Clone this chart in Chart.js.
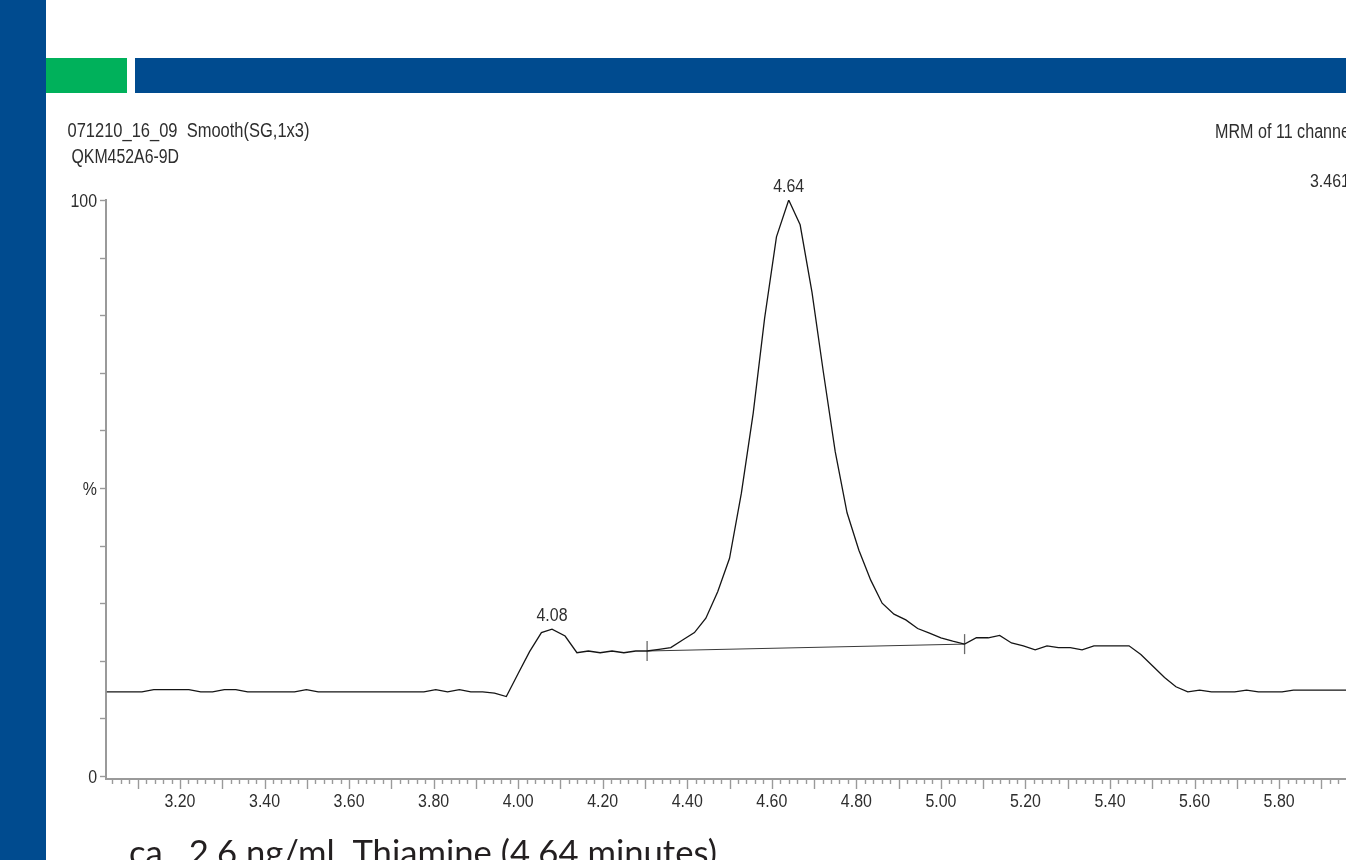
<!DOCTYPE html>
<html>
<head>
<meta charset="utf-8">
<title>Thiamine MRM chromatogram</title>
<script src="https://cdn.jsdelivr.net/npm/chart.js@4.4.1/dist/chart.umd.min.js"></script>
<style>
  html, body { margin: 0; padding: 0; background: #fff; overflow: hidden; width: 1346px; height: 860px; }
  #wrap { position: absolute; left: 0; top: 0; width: 1420px; height: 860px; }
</style>
</head>
<body>
<div id="wrap"><canvas id="chrom" width="1420" height="860"></canvas></div>
<script>
// Retention time (minutes) of each scan
const times = [
  3.027, 3.054, 3.082, 3.110, 3.138, 3.166, 3.193, 3.221, 3.249, 3.277,
  3.305, 3.332, 3.360, 3.388, 3.416, 3.444, 3.471, 3.499, 3.527, 3.555,
  3.583, 3.610, 3.638, 3.666, 3.694, 3.722, 3.749, 3.777, 3.805, 3.833,
  3.861, 3.888, 3.916, 3.944, 3.972, 4.000, 4.027, 4.055, 4.080, 4.111,
  4.139, 4.166, 4.194, 4.222, 4.250, 4.278, 4.305, 4.333, 4.361, 4.389,
  4.417, 4.444, 4.472, 4.500, 4.528, 4.556, 4.583, 4.611, 4.640, 4.667,
  4.695, 4.722, 4.750, 4.778, 4.806, 4.834, 4.861, 4.889, 4.917, 4.945,
  4.973, 5.000, 5.028, 5.056, 5.084, 5.112, 5.139, 5.167, 5.195, 5.223,
  5.251, 5.278, 5.306, 5.334, 5.362, 5.390, 5.417, 5.445, 5.473, 5.501,
  5.529, 5.556, 5.584, 5.612, 5.640, 5.668, 5.695, 5.723, 5.751, 5.779,
  5.807, 5.834, 5.862, 5.890, 5.918, 5.946, 5.973, 6.001, 6.029, 6.057, 6.085
];

// Relative intensity (%) of each scan
const intensity = [
  14.6, 14.6, 14.6, 14.6, 15.0, 15.0, 15.0, 15.0, 14.6, 14.6,
  15.0, 15.0, 14.6, 14.6, 14.6, 14.6, 14.6, 15.0, 14.6, 14.6,
  14.6, 14.6, 14.6, 14.6, 14.6, 14.6, 14.6, 14.6, 15.0, 14.6,
  15.0, 14.6, 14.6, 14.4, 13.8, 17.8, 21.6, 24.9, 25.5, 24.3,
  21.4, 21.7, 21.4, 21.7, 21.4, 21.7, 21.7, 22.0, 22.3, 23.6,
  24.9, 27.4, 32.0, 37.8, 49.1, 63.0, 79.5, 93.6, 100.0, 95.7,
  84.0, 70.1, 56.3, 45.7, 39.2, 34.0, 30.0, 28.1, 27.1, 25.6,
  24.8, 24.0, 23.4, 22.9, 24.0, 24.0, 24.4, 23.1, 22.6, 21.9,
  22.6, 22.3, 22.3, 21.9, 22.6, 22.6, 22.6, 22.6, 21.1, 19.1,
  17.1, 15.5, 14.6, 14.9, 14.6, 14.6, 14.6, 14.9, 14.6, 14.6,
  14.6, 14.9, 14.9, 14.9, 14.9, 14.9, 14.9, 14.9, 14.9, 14.9, 14.9
];

// Labelled peaks (scan indices of the apexes)
const peakIndex = [38, 58];

// Integration baseline of the main peak: start and end scans
const baselineIndex = [46, 73];

// Axis ticks
const xTickLabels = ['3.20', '3.40', '3.60', '3.80', '4.00', '4.20', '4.40', '4.60',
                     '4.80', '5.00', '5.20', '5.40', '5.60', '5.80', '6.00'];
const yTickValues = [0, 10, 20, 30, 40, 50, 60, 70, 80, 90, 100];
const yLabelValues = [0, 50, 100];
const yLabelTexts = ['0', '%', '100'];

// Header texts
const headerLeft = ['071210_16_09  Smooth(SG,1x3)', 'QKM452A6-9D'];
const headerRight = ['MRM of 11 channels,ES+', '3.461e4'];
const caption = 'ca.  2.6 ng/ml  Thiamine (4.64 minutes)';

const BLUE = '#004b8f';
const GREEN = '#00b15b';
const INK = '#2e2e2e';
const AXIS = '#9a9a9a';
const SANS = "'Liberation Sans', Arial, sans-serif";

// Draw text squeezed horizontally by factor sx
function drawScaled(c, text, x, y, sx, align) {
  c.save();
  c.translate(x, y);
  c.scale(sx, 1);
  c.textAlign = align || 'left';
  c.textBaseline = 'alphabetic';
  c.fillText(text, 0, 0);
  c.restore();
}
function scaleFor(c, text, width) {
  return width / c.measureText(text).width;
}

const decor = {
  id: 'decor',
  beforeDraw(chart) {
    const c = chart.ctx;
    c.save();
    c.fillStyle = '#ffffff';
    c.fillRect(0, 0, chart.width, chart.height);
    c.fillStyle = BLUE;
    c.fillRect(0, 0, 46, chart.height);
    c.fillStyle = GREEN;
    c.fillRect(46, 58, 81, 35);
    c.fillStyle = BLUE;
    c.fillRect(135, 58, chart.width - 135, 35);
    c.restore();
  },
  afterDraw(chart) {
    const c = chart.ctx;
    const xs = chart.scales.x, ys = chart.scales.y;
    const area = chart.chartArea;
    c.save();

    // x ticks: minor every 0.02 min, longer every 0.1 min
    c.strokeStyle = AXIS;
    c.lineWidth = 1.4;
    const n0 = Math.ceil(xs.min / 0.02 - 1e-6), n1 = Math.floor(xs.max / 0.02 + 1e-6);
    for (let n = n0; n <= n1; n++) {
      const px = Math.round(xs.getPixelForValue(n * 0.02)) + 0.5;
      const len = (n % 5 === 0) ? 9 : 4;
      c.beginPath();
      c.moveTo(px, area.bottom + 1);
      c.lineTo(px, area.bottom + 1 + len);
      c.stroke();
    }
    // y ticks every 10 %
    yTickValues.forEach(v => {
      const py = Math.round(ys.getPixelForValue(v)) + 0.5;
      c.beginPath();
      c.moveTo(area.left - 6, py);
      c.lineTo(area.left, py);
      c.stroke();
    });

    // tick labels
    c.fillStyle = INK;
    c.font = '18px ' + SANS;
    const sxTick = scaleFor(c, '3.20', 31);
    xTickLabels.forEach(s => {
      drawScaled(c, s, xs.getPixelForValue(parseFloat(s)), 807, sxTick, 'center');
    });
    yLabelValues.forEach((v, i) => {
      drawScaled(c, yLabelTexts[i], 97, ys.getPixelForValue(v) + 6.5, sxTick, 'right');
    });

    // peak apex labels
    peakIndex.forEach(i => {
      const px = xs.getPixelForValue(times[i]);
      const py = ys.getPixelForValue(intensity[i]);
      drawScaled(c, times[i].toFixed(2), px, py - 8, sxTick, 'center');
    });

    // header block
    c.font = '20px ' + SANS;
    drawScaled(c, headerLeft[0], 67.5, 137, scaleFor(c, headerLeft[0], 242), 'left');
    drawScaled(c, headerLeft[1], 71.5, 163, scaleFor(c, headerLeft[1], 107.5), 'left');
    const sxHead = scaleFor(c, 'MRM of 11 channe', 135);
    drawScaled(c, headerRight[0], 1215, 138, sxHead, 'left');
    c.font = '18px ' + SANS;
    drawScaled(c, headerRight[1], 1310, 187, sxTick, 'left');

    // caption below the axis
    c.fillStyle = '#231f20';
    c.font = "35px Lato, 'Open Sans', sans-serif";
    drawScaled(c, caption, 129, 865, scaleFor(c, caption, 588), 'left');

    c.restore();
  }
};

const ctx = document.getElementById('chrom').getContext('2d');
new Chart(ctx, {
  type: 'line',
  data: {
    datasets: [
      {
        data: times.map((t, i) => ({ x: t, y: intensity[i] })),
        borderColor: '#151515',
        borderWidth: 1.3,
        pointRadius: 0,
        tension: 0,
        fill: false
      },
      {
        data: baselineIndex.map(i => ({ x: times[i], y: intensity[i] })),
        borderColor: '#3a3a3a',
        borderWidth: 1,
        pointStyle: 'line',
        pointRadius: 10,
        pointRotation: 90,
        pointBorderColor: '#6a6a6a',
        pointBorderWidth: 1.3,
        tension: 0,
        fill: false
      }
    ]
  },
  options: {
    responsive: false,
    animation: false,
    devicePixelRatio: 1,
    layout: { padding: { left: 106, top: 200, right: 20, bottom: 81 } },
    plugins: { legend: { display: false }, tooltip: { enabled: false } },
    scales: {
      x: {
        type: 'linear',
        min: 3.025,
        max: 6.086,
        ticks: { display: false },
        grid: { display: false, drawTicks: false },
        border: { display: true, color: AXIS, width: 2 }
      },
      y: {
        type: 'linear',
        min: -0.52,
        max: 100,
        ticks: { display: false },
        grid: { display: false, drawTicks: false },
        border: { display: true, color: AXIS, width: 2 }
      }
    }
  },
  plugins: [decor]
});
</script>
</body>
</html>
